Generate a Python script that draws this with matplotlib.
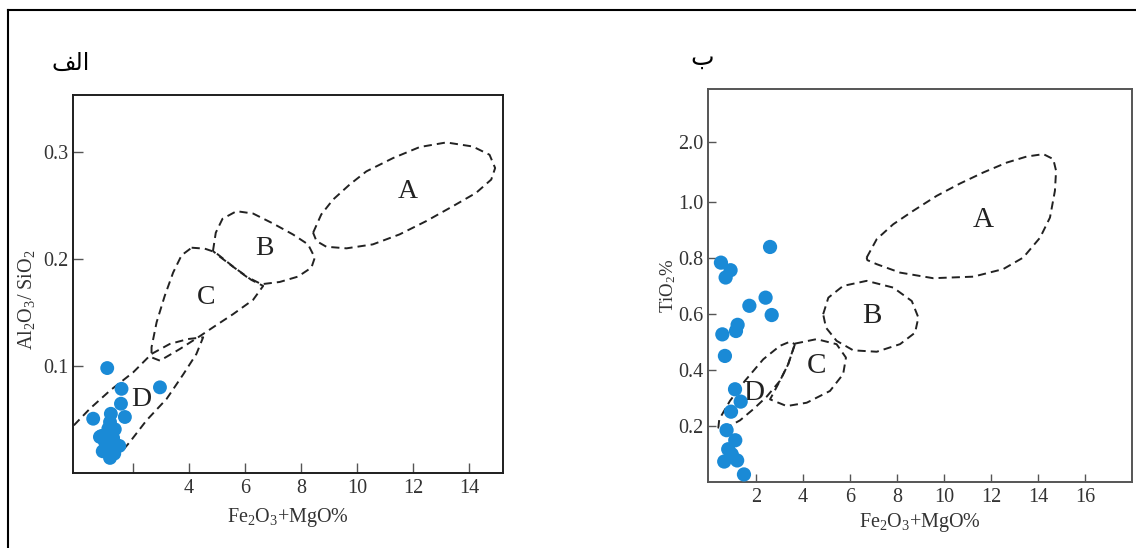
"""Al2O3/SiO2 and TiO2 vs Fe2O3+MgO tectonic setting diagrams (two panels)."""

import matplotlib

matplotlib.use("Agg")
import matplotlib.pyplot as plt
import numpy as np

plt.rcParams["font.family"] = ["Liberation Serif", "DejaVu Sans"]
plt.rcParams["mathtext.fontset"] = "custom"
plt.rcParams["mathtext.rm"] = "Liberation Serif"

POINT_COLOR = "#1a8ad6"

# panel titles (Arabic presentation forms, visual order) -> "الف" and "ب"
TITLE_LEFT = "\ufed2\ufedf\ufe8d"
TITLE_RIGHT = "\u0628"

# ---- left panel: Al2O3/SiO2 vs Fe2O3+MgO ----
left_x = [1.09, 1.60, 2.97, 1.58, 0.59, 1.22, 1.72, 1.19, 1.36, 0.89,
          1.30, 1.07, 1.52, 0.93, 1.34, 1.19, 0.83, 1.13, 1.01]
left_y = [0.098, 0.0786, 0.080, 0.0647, 0.0507, 0.0553, 0.0523, 0.0476, 0.0408, 0.0346,
          0.0327, 0.0265, 0.0253, 0.0203, 0.0181, 0.0141, 0.0337, 0.0414, 0.029]

left_fields = {
    "A": ([8.43, 8.72, 9.14, 9.73, 10.33, 11.28, 12.23, 13.18, 14.12, 14.72, 14.92,
           14.78, 14.24, 13.41, 12.46, 11.51, 10.56, 9.62, 8.90, 8.55],
          [0.2244, 0.2414, 0.2553, 0.2693, 0.2817, 0.2941, 0.3044, 0.3087, 0.3049, 0.2972,
           0.2848, 0.2740, 0.2616, 0.2491, 0.2352, 0.2228, 0.2135, 0.2098, 0.2113, 0.2166]),
    "B": ([4.86, 4.96, 5.20, 5.70, 6.29, 7.00, 7.71, 8.25, 8.49, 8.37, 7.89, 7.24,
           6.59, 6.05, 5.46, 5.04],
          [0.2073, 0.2244, 0.2374, 0.2445, 0.2423, 0.2330, 0.2228, 0.2135, 0.2011, 0.1918,
           0.1834, 0.1784, 0.1763, 0.1834, 0.1949, 0.2033]),
    "C": ([4.10, 4.57, 4.93, 5.58, 6.23, 6.65, 6.29, 5.58, 4.86, 4.33, 3.68, 2.97,
           2.67, 2.67, 2.85, 3.14, 3.44, 3.74],
          [0.2104, 0.2095, 0.2063, 0.1927, 0.1803, 0.1747, 0.1617, 0.1484, 0.1360, 0.1267,
           0.1158, 0.1049, 0.1080, 0.1174, 0.1407, 0.1654, 0.1872, 0.2033]),
}
# D is open where the axes cut it off
left_d_x = [-0.10, 0.47, 1.19, 2.02, 2.67, 3.32, 3.97, 4.51, 4.27, 3.80, 3.21, 2.49, 1.90, 1.30]
left_d_y = [0.0445, 0.0600, 0.0770, 0.0941, 0.1112, 0.1205, 0.1251, 0.1267, 0.1112,
            0.0921, 0.0693, 0.0491, 0.0291, 0.0104]
left_field_labels = {"A": (11.81, 0.263), "B": (6.71, 0.210), "C": (4.63, 0.164), "D": (2.31, 0.069)}

left_xticks = [2, 4, 6, 8, 10, 12, 14]
left_xticklabels = ["", "4", "6", "8", "10", "12", "14"]
left_yticks = [0.1, 0.2, 0.3]
left_yticklabels = ["0.1", "0.2", "0.3"]

# ---- right panel: TiO2 vs Fe2O3+MgO ----
right_x = [2.60, 0.51, 0.92, 0.71, 1.72, 2.41, 2.67, 0.57, 1.22, 1.15, 0.68,
           1.11, 1.35, 0.94, 0.75, 1.12, 0.82, 0.65, 1.20, 0.97, 1.49]
right_y = [0.839, 0.783, 0.756, 0.730, 0.629, 0.658, 0.596, 0.527, 0.561, 0.539, 0.45,
           0.331, 0.287, 0.251, 0.185, 0.149, 0.117, 0.073, 0.077, 0.099, 0.027]

right_fields = {
    "A": ([6.71, 7.14, 7.84, 8.69, 9.69, 10.68, 11.67, 12.67, 13.52, 14.23, 14.65, 14.77,
           14.72, 14.51, 14.09, 13.37, 12.52, 11.25, 9.54, 8.13, 7.14, 6.74],
          [0.801, 0.867, 0.920, 0.968, 1.10, 1.305, 1.489, 1.654, 1.755, 1.795, 1.712, 1.517,
           1.183, 0.944, 0.8725, 0.801, 0.760, 0.733, 0.7275, 0.7475, 0.7775, 0.792]),
    "B": ([4.86, 5.08, 5.71, 6.71, 7.84, 8.63, 8.91, 8.77, 8.13, 7.14, 6.14, 5.43, 4.98],
          [0.599, 0.658, 0.700, 0.718, 0.694, 0.646, 0.587, 0.533, 0.492, 0.465, 0.470,
           0.504, 0.551]),
    "C": ([3.66, 4.58, 5.43, 5.83, 5.71, 5.15, 4.16, 3.31, 2.60, 3.02, 3.37],
          [0.494, 0.510, 0.492, 0.444, 0.385, 0.325, 0.283, 0.271, 0.295, 0.361, 0.420]),
    "D": ([3.66, 3.37, 3.02, 2.45, 1.89, 1.32, 0.75, 0.40, 0.44, 0.89, 1.53, 2.31, 3.02, 3.45],
          [0.492, 0.420, 0.361, 0.304, 0.260, 0.220, 0.194, 0.194, 0.224, 0.289, 0.361,
           0.438, 0.486, 0.501]),
}
right_field_labels = {"A": (11.67, 0.935), "B": (6.95, 0.593), "C": (4.58, 0.414), "D": (1.89, 0.319)}

right_xticks = [2, 4, 6, 8, 10, 12, 14, 16]
right_yticks = [0.2, 0.4, 0.6, 0.8, 1.0, 2.0]
right_yticklabels = ["0.2", "0.4", "0.6", "0.8", "1.0", "2.0"]

# the y axis of the right diagram is compressed above 1.0
BREAK_RATIO = 60 / 280


def squash(y):
    y = np.asarray(y, dtype=float)
    return np.where(y <= 1, y, 1 + (y - 1) * BREAK_RATIO)


def unsquash(z):
    z = np.asarray(z, dtype=float)
    return np.where(z <= 1, z, 1 + (z - 1) / BREAK_RATIO)


def closed(xs, ys):
    return list(xs) + [xs[0]], list(ys) + [ys[0]]


def style_axes(ax, spine_color, tick_len):
    for side in ax.spines.values():
        side.set_color(spine_color)
        side.set_linewidth(1.4)
    ax.tick_params(direction="in", length=tick_len, width=1.0, color="#555555",
                   labelcolor="#333333", labelsize=14.5)
    ax.tick_params(axis="x", pad=4)
    ax.tick_params(axis="y", pad=3)


def draw_fields(ax, fields, labels, label_size):
    dash = dict(color="#222222", linewidth=1.4, linestyle=(0, (4.2, 2.6)), zorder=2)
    for name, (xs, ys) in fields.items():
        cx, cy = closed(xs, ys)
        ax.plot(cx, cy, **dash)
    for name, (tx, ty) in labels.items():
        ax.text(tx, ty, name, fontsize=label_size, ha="center", va="center",
                color="#222222", zorder=2)
    return dash


fig = plt.figure(figsize=(11.36, 5.48), dpi=100)

# outer frame of the original figure (top and left edges visible)
fig.add_artist(plt.Line2D([8 / 1136, 1], [1 - 10 / 548, 1 - 10 / 548], color="black", lw=1.5))
fig.add_artist(plt.Line2D([8 / 1136, 8 / 1136], [0, 1 - 10 / 548], color="black", lw=1.5))

# ---- left ----
ax1 = fig.add_axes([73 / 1136, 75 / 548, 430 / 1136, 378 / 548])
style_axes(ax1, "#1e1e1e", 7)
dash = draw_fields(ax1, left_fields, left_field_labels, 20)
ax1.plot(left_d_x, left_d_y, **dash)
ax1.scatter(left_x, left_y, s=100, color=POINT_COLOR, edgecolors="none", zorder=3)
ax1.set_xlim(-0.13, 15.2)
ax1.set_ylim(0, 0.353)
ax1.set_xticks(left_xticks)
ax1.set_xticklabels(left_xticklabels)
ax1.set_yticks(left_yticks)
ax1.set_yticklabels(left_yticklabels)
ax1.set_xlabel(r"Fe$\mathregular{_2}$O$\mathregular{_3}$+MgO%", fontsize=14.5, color="#333333")
ax1.xaxis.set_label_coords(0.5, -0.119)
ax1.xaxis.label.set_va("center")
ax1.set_ylabel(r"Al$\mathregular{_2}$O$\mathregular{_3}$/ SiO$\mathregular{_2}$",
               fontsize=14.5, color="#333333")
ax1.yaxis.set_label_coords(-0.107, 0.458)
ax1.yaxis.label.set_va("center")
fig.text(71 / 1136, 1 - 63 / 548, TITLE_LEFT, family=["DejaVu Sans"], fontsize=17,
         ha="center", va="center")

# ---- right ----
ax2 = fig.add_axes([708 / 1136, 66 / 548, 424 / 1136, 393 / 548])
ax2.set_yscale("function", functions=(squash, unsquash))
style_axes(ax2, "#555555", 5.5)
draw_fields(ax2, right_fields, right_field_labels, 21)
ax2.scatter(right_x, right_y, s=105, color=POINT_COLOR, edgecolors="none", zorder=3)
ax2.set_xlim(-0.04, 18.0)
ax2.set_ylim(0, 2.88)
ax2.set_xticks(right_xticks)
ax2.set_yticks(right_yticks)
ax2.set_yticklabels(right_yticklabels)
ax2.yaxis.set_minor_locator(matplotlib.ticker.NullLocator())
ax2.set_xlabel(r"Fe$\mathregular{_2}$O$\mathregular{_3}$+MgO%", fontsize=14.5, color="#333333")
ax2.xaxis.set_label_coords(0.5, -0.102)
ax2.xaxis.label.set_va("center")
ax2.set_ylabel(r"TiO$\mathregular{_2}$%", fontsize=13.5, color="#333333")
ax2.yaxis.set_label_coords(-0.094, 0.5)
ax2.yaxis.label.set_va("center")
fig.text(702 / 1136, 1 - 58 / 548, TITLE_RIGHT, family=["DejaVu Sans"], fontsize=18,
         ha="center", va="center")

fig.savefig("out.png", dpi=100)
